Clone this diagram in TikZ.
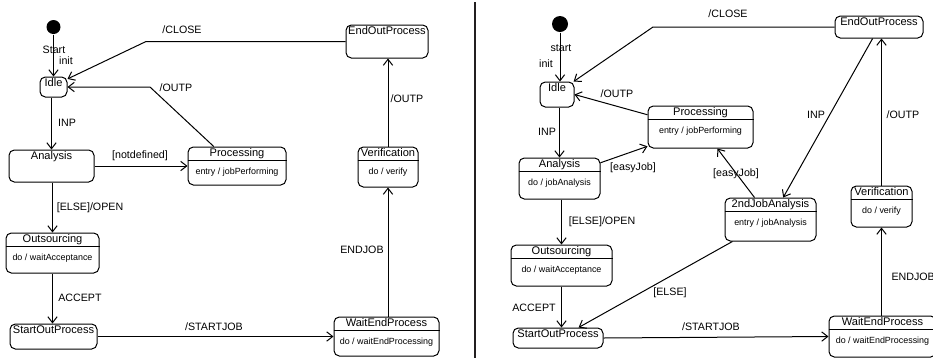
\documentclass[tikz,border=0pt]{standalone}
\usepackage{fontspec}
\setmainfont{Liberation Sans}
\usetikzlibrary{arrows.meta,fit,calc,positioning}

\tikzset{every picture/.style={line width=0.75pt}}
\tikzset{
  stbox/.style={draw, rounded corners=4pt, inner sep=0pt},
  stitle/.style={anchor=north, inner sep=0.75pt, text height=6.5pt, text depth=2pt, font=\fontsize{8.3}{10}\selectfont},
  act/.style={inner sep=0pt, font=\fontsize{6.7}{8}\selectfont},
  lbl/.style={inner sep=0pt, font=\fontsize{8}{10}\selectfont},
  startdot/.style={circle, fill=black, inner sep=0pt, minimum size=10.5pt},
  arr/.style={-{Straight Barb[length=4.5pt,width=7pt]}},
}

\begin{document}
\begin{tikzpicture}[x=0.75pt,y=0.75pt,yscale=-1,xscale=1]
\useasboundingbox (0,0) rectangle (933,362);

%%%%% left diagram
%States
\node[startdot] (initL) at (53.5,27) {};
\node[stbox, fit={(40,77) (67,97)}] (idleL) {};
\node[stitle] (idleLt) at (idleL.north) {Idle};
\node[stbox, fit={(9,150) (94,182)}] (anaL) {};
\node[stitle] (anaLt) at (anaL.north) {Analysis};
\node[stbox, fit={(188,147) (286,185)}] (procL) {};
\node[stitle] (procLt) at (procL.north) {Processing};
\draw (procL.west |- procLt.south) -- (procL.east |- procLt.south);
\node[act] (procLa) at ($(procLt.south)+(0,11)$) {entry / jobPerforming};
\node[stbox, fit={(6,233) (99,273)}] (outsL) {};
\node[stitle] (outsLt) at (outsL.north) {Outsourcing};
\draw (outsL.west |- outsLt.south) -- (outsL.east |- outsLt.south);
\node[act] (outsLa) at ($(outsLt.south)+(0,11)$) {do / waitAcceptance};
\node[stbox, fit={(10,324) (97,349)}] (startL) {};
\node[stitle] (startLt) at (startL.north) {StartOutProcess};
\node[stbox, fit={(334,317) (439,356)}] (waitL) {};
\node[stitle] (waitLt) at (waitL.north) {WaitEndProcess};
\draw (waitL.west |- waitLt.south) -- (waitL.east |- waitLt.south);
\node[act] (waitLa) at ($(waitLt.south)+(0,11)$) {do / waitEndProcessing};
\node[stbox, fit={(358,147) (418,187)}] (verL) {};
\node[stitle] (verLt) at (verL.north) {Verification};
\draw (verL.west |- verLt.south) -- (verL.east |- verLt.south);
\node[act] (verLa) at ($(verLt.south)+(0,11)$) {do / verify};
\node[stbox, fit={(346,25) (428,58)}] (endL) {};
\node[stitle] (endLt) at (endL.north) {EndOutProcess};

%Transitions
\coordinate (closeL) at (146,41.5);
\coordinate (outpL) at (150,87);
\draw[arr] (initL) -- (idleL);
\draw[arr] (endL.west) -- (closeL) -- (idleL.30);
\draw[arr] (procL.140) -- (outpL) -- (idleL.east);
\draw[arr] (anaL.north |- idleL.south) -- (anaL.north);
\draw[arr] (anaL.east) -- (procL.west);
\draw[arr] (outsL.north |- anaL.south) -- (outsL.north);
\draw[arr] (outsL.south) -- (outsL.south |- startL.north);
\draw[arr] (startL.east) -- (waitL.west);
\draw[arr] (verL.south |- waitL.north) -- (verL.south);
\draw[arr] (verL.north) -- (verL.north |- endL.south);

%Labels
\node[lbl] (startLl) at (54,50) {Start};
\node[lbl] (initLl) at (66,61) {init};
\node[lbl] (closeLl) at (182,30) {/CLOSE};
\node[lbl] (outpLl) at (176,88) {/OUTP};
\node[lbl] (inpLl) at (67,123) {INP};
\node[lbl] (undefLl) at (140,156) {[notdefined]};
\node[lbl] (openLl) at (90,208) {[ELSE]/OPEN};
\node[lbl] (acceptLl) at (80,298) {ACCEPT};
\node[lbl] (sjobLl) at (214,327) {/STARTJOB};
\node[lbl] (ejobLl) at (362,250) {ENDJOB};
\node[lbl] (outpLl2) at (407,99) {/OUTP};

%Divider
\draw[line width=1.5pt, color={rgb, 255:red, 35; green, 31; blue, 32}] (475,2) -- (475,358);

%%%%% right diagram
%States
\node[startdot, minimum size=12pt] (initR) at (560,24) {};
\node[stbox, fit={(540,82) (574,107)}] (idleR) {};
\node[stitle] (idleRt) at (idleR.north) {Idle};
\node[stbox, fit={(519,158) (600,199)}] (anaR) {};
\node[stitle] (anaRt) at (anaR.north) {Analysis};
\draw (anaR.west |- anaRt.south) -- (anaR.east |- anaRt.south);
\node[act] (anaRa) at ($(anaRt.south)+(0,11)$) {do / jobAnalysis};
\node[stbox, fit={(648,106) (753,148)}] (procR) {};
\node[stitle] (procRt) at (procR.north) {Processing};
\draw (procR.west |- procRt.south) -- (procR.east |- procRt.south);
\node[act] (procRa) at ($(procRt.south)+(0,11)$) {entry / jobPerforming};
\node[stbox, fit={(725,198) (816,241)}] (jobR) {};
\node[stitle] (jobRt) at (jobR.north) {2ndJobAnalysis};
\draw (jobR.west |- jobRt.south) -- (jobR.east |- jobRt.south);
\node[act] (jobRa) at ($(jobRt.south)+(0,11)$) {entry / jobAnalysis};
\node[stbox, fit={(511,245) (612,286)}] (outsR) {};
\node[stitle] (outsRt) at (outsR.north) {Outsourcing};
\draw (outsR.west |- outsRt.south) -- (outsR.east |- outsRt.south);
\node[act] (outsRa) at ($(outsRt.south)+(0,11)$) {do / waitAcceptance};
\node[stbox, fit={(513,328) (603,348)}] (startR) {};
\node[stitle] (startRt) at (startR.north) {StartOutProcess};
\node[stbox, fit={(829,316) (936,357)}] (waitR) {};
\node[stitle] (waitRt) at (waitR.north) {WaitEndProcess};
\draw (waitR.west |- waitRt.south) -- (waitR.east |- waitRt.south);
\node[act] (waitRa) at ($(waitRt.south)+(0,11)$) {do / waitEndProcessing};
\node[stbox, fit={(851,186) (912,227)}] (verR) {};
\node[stitle] (verRt) at (verR.north) {Verification};
\draw (verR.west |- verRt.south) -- (verR.east |- verRt.south);
\node[act] (verRa) at ($(verRt.south)+(0,11)$) {do / verify};
\node[stbox, fit={(835,16) (923,38)}] (endR) {};
\node[stitle] (endRt) at (endR.north) {EndOutProcess};

%Transitions
\coordinate (closeR) at (653,27);
\draw[arr] (initR) -- (initR |- idleR.north);
\draw[arr] (endR.west) -- (closeR) -- (idleR.38);
\draw[arr] (procR.167) -- (idleR.east);
\draw[arr] (anaR.north |- idleR.south) -- (anaR.north);
\draw[arr] (anaR.21) -- (procR.200);
\draw[arr] (jobR.126) -- (procR.-52);
\draw[arr] (endR.241) -- (jobR.60);
\draw[arr] (verR.north) -- (verR.north |- endR.south);
\draw[arr] (outsR.north |- anaR.south) -- (outsR.north);
\draw[arr] (outsR.south) -- (outsR.south |- startR.north);
\draw[arr] (jobR.210) -- (startR.27);
\draw[arr] (startR.east) -- (waitR.west);
\draw[arr] (verR.south |- waitR.north) -- (verR.south);

%Labels
\node[lbl] (startRl) at (561,48) {start};
\node[lbl] (initRl) at (546,64) {init};
\node[lbl] (closeRl) at (728,14) {/CLOSE};
\node[lbl] (outpRl) at (617,94) {/OUTP};
\node[lbl] (inpRl) at (547,132) {INP};
\node[lbl] (easyRl) at (633,168) {[easyJob]};
\node[lbl] (easyRl2) at (736,174) {[easyJob]};
\node[lbl] (inpRl2) at (816,115) {INP};
\node[lbl] (outpRl2) at (903,115) {/OUTP};
\node[lbl] (openRl) at (602,222) {[ELSE]/OPEN};
\node[lbl] (acceptRl) at (534,308) {ACCEPT};
\node[lbl] (elseRl) at (670,293) {[ELSE]};
\node[lbl] (sjobRl) at (711,327) {/STARTJOB};
\node[lbl, anchor=west] (ejobRl) at (891,277) {ENDJOB};

\end{tikzpicture}
\end{document}
